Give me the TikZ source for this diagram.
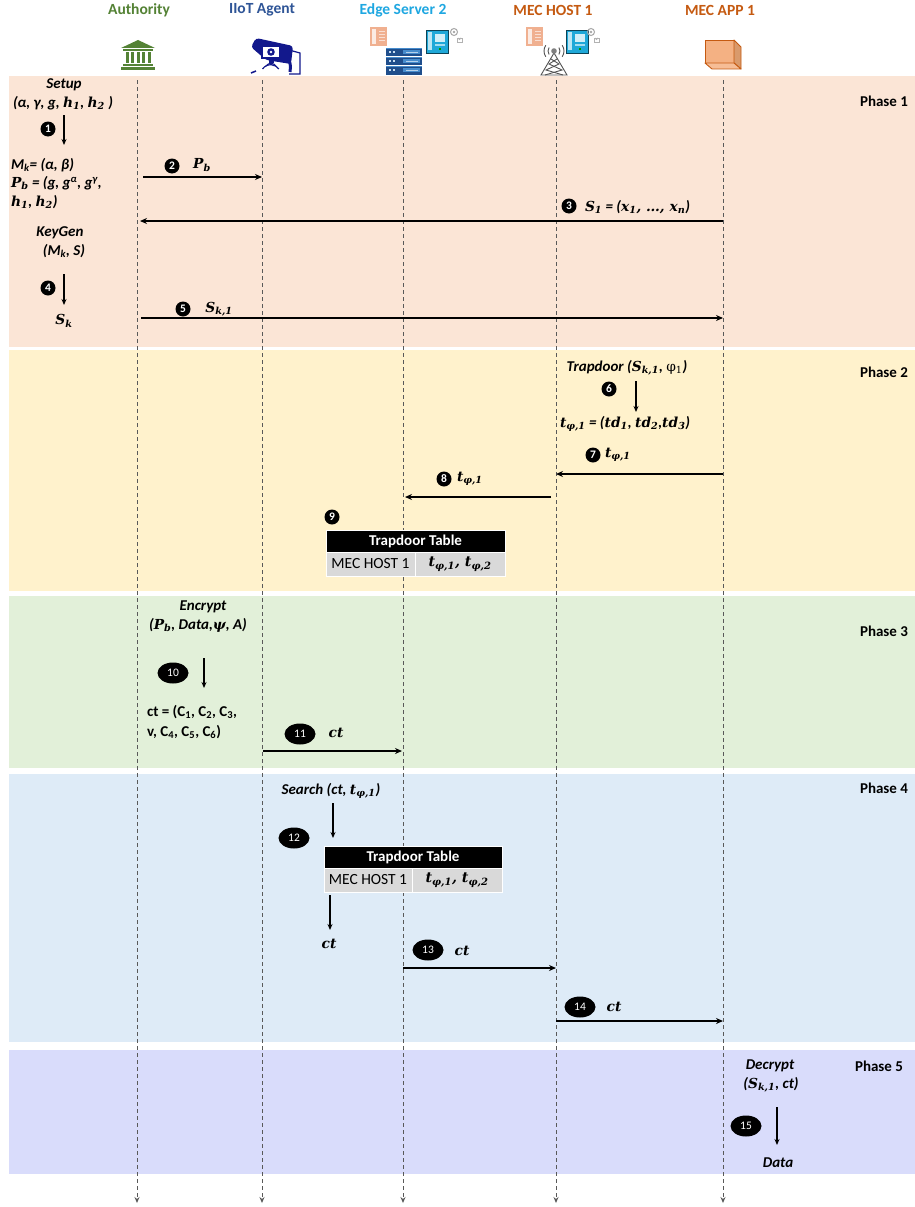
\documentclass[tikz,border=0pt]{standalone}
\usepackage{fontspec}
\setmainfont{Carlito}
\newfontfamily\mathlike[Scale=0.92]{DejaVu Serif}
\usetikzlibrary{arrows.meta,shapes.geometric}
\newcommand{\mv}[1]{{\mathlike\bfseries\itshape #1}}
\newcommand{\fs}{\fontsize{15}{18}\selectfont}
\definecolor{bandA}{HTML}{FBE5D6}
\definecolor{bandB}{HTML}{FFF2CC}
\definecolor{bandC}{HTML}{E2F0D9}
\definecolor{bandD}{HTML}{DEEBF7}
\definecolor{bandE}{HTML}{D9DCFB}
\definecolor{tgreen}{HTML}{548235}
\definecolor{tnavy}{HTML}{2F5597}
\definecolor{tcyan}{HTML}{1EA7E1}
\definecolor{torange}{HTML}{C55A11}
\definecolor{linegray}{HTML}{595959}
\definecolor{cellgray}{HTML}{D9D9D9}
\definecolor{camnavy}{RGB}{18,24,140}
\definecolor{srvdark}{RGB}{31,78,140}
\definecolor{srvlight}{RGB}{70,140,205}
\definecolor{peachdev}{HTML}{F0B090}
\definecolor{cyandev}{HTML}{1FA8D8}
\definecolor{boxfill}{HTML}{F4B183}
\definecolor{boxside}{HTML}{D99A6C}
\newcommand{\peachdev}[2]{%
  \fill[peachdev] (#1,#2) rectangle (#1+17,#2+19);
  \fill[white!75!peachdev] (#1+2,#2+2) rectangle (#1+6,#2+17);
  \foreach \k in {4,7,10,13} {\fill[white!60!peachdev] (#1+9,#2+\k) rectangle (#1+15,#2+\k+1.5);}
}
\newcommand{\cyandev}[2]{%
  \fill[cyandev] (#1,#2) rectangle (#1+22,#2+23);
  \draw[black!60!cyandev, line width=0.6pt] (#1,#2) rectangle (#1+22,#2+23);
  \fill[white!70!cyandev] (#1+2,#2+2) rectangle (#1+6,#2+20);
  \fill[white!80!cyandev] (#1+9,#2+4) rectangle (#1+19,#2+12);
  \fill[white!60!cyandev] (#1+9,#2+14) rectangle (#1+19,#2+16);
  \fill[green!60!black] (#1+13,#2+18) rectangle (#1+15,#2+20);
}
\newcommand{\gearlock}[2]{%
  \draw[gray!70, line width=1pt] (#1,#2) circle (3.5);
  \fill[gray!70] (#1,#2) circle (1.3);
  \draw[gray!60, line width=0.8pt] (#1+3,#2+6) rectangle (#1+8,#2+10);
  \draw[gray!60, line width=0.8pt] (#1+4,#2+6) arc[start angle=180,end angle=0,radius=1.5];
}
\begin{document}
\begin{tikzpicture}[x=1pt,y=-1pt,
  every node/.style={inner sep=0pt, outer sep=0pt},
  lbl/.style={font=\fs\bfseries\itshape},
  plain/.style={font=\fs\bfseries},
  phase/.style={font=\fs\bfseries, anchor=east},
  title/.style={font=\fontsize{15.5}{17}\selectfont\bfseries},
  lifeline/.style={draw=linegray, line width=1pt, dash pattern=on 4pt off 3pt, -{Stealth[length=6pt,width=5pt]}},
  msg/.style={draw=black, line width=1.4pt, -{Stealth[length=7pt,width=6pt]}},
  vstep/.style={draw=black, line width=1.3pt, -{Stealth[length=6pt,width=5pt]}},
  numc/.style={circle, fill=black, text=white, minimum size=15pt, font=\fontsize{11.5}{11.5}\selectfont\bfseries},
  nume/.style={ellipse, fill=black, text=white, minimum width=31pt, minimum height=21pt, font=\fontsize{11.5}{11.5}\selectfont},
  thead/.style={fill=black, text=white, font=\fs\bfseries, minimum height=22pt, anchor=north west, draw=white, line width=0.8pt},
  tcell/.style={fill=cellgray, font=\fontsize{15.5}{18}\selectfont, minimum height=24pt, anchor=north west, draw=white, line width=0.8pt},
]
\useasboundingbox (0,0) rectangle (915,1207);
\fill[white] (0,0) rectangle (915,1207);
% bands
\fill[bandA] (9,75.5) rectangle (915,347);
\fill[bandB] (9,350) rectangle (915,591);
\fill[bandC] (9,596) rectangle (915,768);
\fill[bandD] (9,774) rectangle (915,1042);
\fill[bandE] (9,1050) rectangle (915,1174);
% titles
\node[title, text=tgreen] (t-auth) at (139,10) {Authority};
\node[title, text=tnavy] (t-iiot) at (262,10) {IIoT Agent};
\node[title, text=tcyan] (t-edge) at (403,10) {Edge Server 2};
\node[title, text=torange] (t-host) at (553,10) {MEC HOST 1};
\node[title, text=torange] (t-app) at (720,10) {MEC APP 1};
% ---- icons ----
% bank
\begin{scope}[fill=tgreen]
\fill (121,48) -- (138,40) -- (155,48) -- cycle;
\fill (123,49) rectangle (153,51.5);
\foreach \cx in {125.5,131,136.5,142,147.5} {\fill (\cx,52.5) rectangle (\cx+3.2,63);}
\fill (123,64) rectangle (153,66);
\fill (121,67.5) rectangle (155,70);
\end{scope}
% camera
\fill[camnavy, rounded corners=3pt] (251,47) -- (256,38) -- (293,46) -- (291,64) -- (266,60) -- cycle;
\fill[white] (262,46) rectangle (280,58);
\draw[camnavy, line width=1.2pt] (262,46) rectangle (280,58);
\fill[camnavy] (271,52) circle (3.8);
\fill[white] (271,52) circle (1.4);
\fill[camnavy] (268.5,58) rectangle (273.5,63);
\draw[camnavy, line width=1.2pt] (289,50) -- (300,53) -- (300,74) -- (289,74);
\draw[camnavy, line width=3pt] (283,59) .. controls (291,62) .. (290,72);
\draw[camnavy, line width=1.2pt] (266,66) arc[start angle=215, end angle=325, radius=6];
\draw[camnavy, line width=1.2pt] (262.5,69) arc[start angle=215, end angle=325, radius=10];
\draw[camnavy, line width=1.5pt] (251,73) -- (256,71);
% edge server stack
\foreach \yy in {48,57,66} {
  \fill[srvdark] (386,\yy) rectangle (422,\yy+8.5);
  \fill[srvlight] (386,\yy) rectangle (422,\yy+1.5);
  \fill[white!70!srvlight] (389,\yy+3.5) rectangle (391,\yy+5.5);
  \fill[white!70!srvlight] (393,\yy+3.5) rectangle (395,\yy+5.5);
  \fill[srvlight] (403,\yy+2.5) rectangle (420,\yy+6.5);
  \fill[white!60!srvlight] (406,\yy+3.8) rectangle (418,\yy+5.2);
}
\peachdev{370}{27}
\cyandev{426}{30}
\gearlock{454}{32}
% MEC host icons
\peachdev{526}{27}
\cyandev{566}{30}
\gearlock{591}{32}
\begin{scope}[draw=gray!65!black, line width=0.9pt]
\draw (554,53) -- (541,75) -- (567,75) -- cycle;
\draw (551,59) -- (559,64) -- (546,70) -- (563,75);
\draw (557,59) -- (549,64) -- (562,70) -- (545,75);
\fill[gray] (554,51) circle (2.8);
\draw (554,51) ++(145:6) arc[start angle=145, end angle=215, radius=6];
\draw (554,51) ++(145:10) arc[start angle=145, end angle=215, radius=10];
\draw (554,51) ++(35:6) arc[start angle=35, end angle=-35, radius=6];
\draw (554,51) ++(35:10) arc[start angle=35, end angle=-35, radius=10];
\end{scope}
% MEC APP box
\begin{scope}[draw=torange, line width=0.9pt, line join=round]
\filldraw[fill=boxfill] (705,40) rectangle (734,63);
\filldraw[fill=boxside] (734,40) -- (741,47) -- (741,69) -- (734,63) -- cycle;
\filldraw[fill=boxfill!85!white] (705,63) -- (734,63) -- (741,69) -- (712,69) -- cycle;
\end{scope}
% lifelines
\foreach \n/\x in {auth/137,iiot/262,edge/403,host/556,app/723} {
  \coordinate (\n-top) at (\x,80);
  \coordinate (\n-bot) at (\x,1203);
  \draw[lifeline] (\n-top) -- (\n-bot);
}
% phase labels
\node[phase] (ph1) at (908,101) {Phase 1};
\node[phase] (ph2) at (908,372) {Phase 2};
\node[phase] (ph3) at (908,631) {Phase 3};
\node[phase] (ph4) at (908,788) {Phase 4};
\node[phase] (ph5) at (903,1066) {Phase 5};
% ---------- Phase 1 ----------
\node[lbl] (setup) at (64,85) {Setup};
\node[lbl] (setuparg) at (63,103) {(α, γ, g, \mv{h\textsubscript{1}}, \mv{h\textsubscript{2}} )};
\node[numc] (n1) at (48,129) {1};
\coordinate (v1s) at (64,115); \coordinate (v1e) at (64,145);
\draw[vstep] (v1s) -- (v1e);
\node[lbl, anchor=west] (mk) at (11,165) {M\textsubscript{k}= (α, β)};
\node[lbl, anchor=west] (pb) at (11,183) {\mv{P\textsubscript{b}} = (g, g\textsuperscript{α}, g\textsuperscript{γ},};
\node[lbl, anchor=west] (pb2) at (11,202) {\mv{h\textsubscript{1}}, \mv{h\textsubscript{2}})};
\node[numc] (n2) at (172,166) {2};
\node[lbl] (l2) at (202,165) {\mv{P\textsubscript{b}}};
\coordinate (m2s) at (143,177); \coordinate (m2e) at (262,177);
\draw[msg] (m2s) -- (m2e);
\node[numc] (n3) at (569,206) {3};
\node[lbl, anchor=west] (l3) at (585,207) {\mv{S\textsubscript{1}} = (\mv{x\textsubscript{1}, …, x\textsubscript{n}})};
\coordinate (m3s) at (723,221); \coordinate (m3e) at (140,221);
\draw[msg] (m3s) -- (m3e);
\node[lbl] (keygen) at (60,233) {KeyGen};
\node[lbl] (keygenarg) at (64,251) {(M\textsubscript{k}, S)};
\node[numc] (n4) at (48,288) {4};
\coordinate (v4s) at (64,274); \coordinate (v4e) at (64,305);
\draw[vstep] (v4s) -- (v4e);
\node[lbl] (sk) at (64,321) {\mv{S\textsubscript{k}}};
\node[numc] (n5) at (183,309) {5};
\node[lbl] (l5) at (219,309) {\mv{S\textsubscript{k,1}}};
\coordinate (m5s) at (141,318); \coordinate (m5e) at (723,318);
\draw[msg] (m5s) -- (m5e);
% ---------- Phase 2 ----------
\node[lbl] (trap) at (627,368) {Trapdoor (\mv{S\textsubscript{k,1}}, {\mathlike\mdseries\upshape φ\textsubscript{1}})};
\node[numc] (n6) at (609,389) {6};
\coordinate (v6s) at (636,381); \coordinate (v6e) at (636,412);
\draw[vstep] (v6s) -- (v6e);
\node[lbl, anchor=west] (td) at (560,424) {\mv{t\textsubscript{φ,1}} = (\mv{td\textsubscript{1}}, \mv{td\textsubscript{2}},\mv{td\textsubscript{3}})};
\node[numc] (n7) at (593,455) {7};
\node[lbl, anchor=west] (l7) at (605,455) {\mv{t\textsubscript{φ,1}}};
\coordinate (m7s) at (723,474); \coordinate (m7e) at (556,474);
\draw[msg] (m7s) -- (m7e);
\node[numc] (n8) at (444,479) {8};
\node[lbl, anchor=west] (l8) at (457,479) {\mv{t\textsubscript{φ,1}}};
\coordinate (m8s) at (551,497); \coordinate (m8e) at (405,497);
\draw[msg] (m8s) -- (m8e);
\node[numc] (n9) at (332,517) {9};
\node[thead, minimum width=179pt] (tt1) at (326,530) {Trapdoor Table};
\node[tcell, minimum width=89pt] (tc1a) at (326,552) {MEC HOST 1};
\node[tcell, minimum width=90pt] (tc1b) at (415,552) {\mv{t\textsubscript{φ,1}, t\textsubscript{φ,2}}};
% ---------- Phase 3 ----------
\node[lbl] (enc) at (203,607) {Encrypt};
\node[lbl] (encarg) at (198,625) {(\mv{P\textsubscript{b}}, Data,\mv{ψ}, A)};
\node[nume] (n10) at (173,673) {10};
\coordinate (v10s) at (204,658); \coordinate (v10e) at (204,688);
\draw[vstep] (v10s) -- (v10e);
\node[plain, anchor=west] (ct1) at (147,712) {ct = (C\textsubscript{1}, C\textsubscript{2}, C\textsubscript{3},};
\node[plain, anchor=west] (ct2) at (147,732) {v, C\textsubscript{4}, C\textsubscript{5}, C\textsubscript{6})};
\node[nume] (n11) at (300,734) {11};
\node[lbl] (l11) at (336,733) {\mv{ct}};
\coordinate (m11s) at (263,751); \coordinate (m11e) at (402,751);
\draw[msg] (m11s) -- (m11e);
% ---------- Phase 4 ----------
\node[lbl] (search) at (331,791) {Search (ct, \mv{t\textsubscript{φ,1}})};
\coordinate (v12s) at (333,803); \coordinate (v12e) at (333,838);
\draw[vstep] (v12s) -- (v12e);
\node[nume] (n12) at (294,838) {12};
\node[thead, minimum width=178pt] (tt2) at (324,846) {Trapdoor Table};
\node[tcell, minimum width=88pt] (tc2a) at (324,868) {MEC HOST 1};
\node[tcell, minimum width=90pt] (tc2b) at (412,868) {\mv{t\textsubscript{φ,1}, t\textsubscript{φ,2}}};
\coordinate (v12bs) at (330,895); \coordinate (v12be) at (330,930);
\draw[vstep] (v12bs) -- (v12be);
\node[lbl] (ctout) at (329,944) {\mv{ct}};
\node[nume] (n13) at (428,950) {13};
\node[lbl] (l13) at (462,951) {\mv{ct}};
\coordinate (m13s) at (403,968); \coordinate (m13e) at (556,968);
\draw[msg] (m13s) -- (m13e);
\node[nume] (n14) at (580,1007) {14};
\node[lbl] (l14) at (614,1007) {\mv{ct}};
\coordinate (m14s) at (556,1021); \coordinate (m14e) at (723,1021);
\draw[msg] (m14s) -- (m14e);
% ---------- Phase 5 ----------
\node[lbl] (dec) at (770,1066) {Decrypt};
\node[lbl] (decarg) at (771,1085) {(\mv{S\textsubscript{k,1}}, ct)};
\node[nume] (n15) at (746,1126) {15};
\coordinate (v15s) at (777,1107); \coordinate (v15e) at (777,1145);
\draw[vstep] (v15s) -- (v15e);
\node[lbl] (data) at (778,1163) {Data};
\end{tikzpicture}
\end{document}
